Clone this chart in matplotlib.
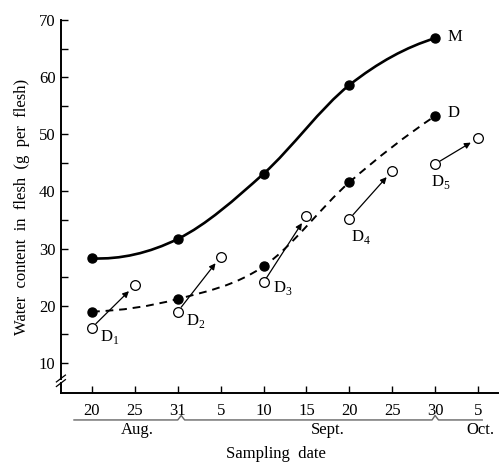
import numpy as np
import matplotlib
matplotlib.use('Agg')
import matplotlib.pyplot as plt
from matplotlib.path import Path
from matplotlib.patches import PathPatch
import matplotlib.transforms as mtransforms

plt.rcParams['font.family'] = ['Liberation Serif', 'DejaVu Serif']
plt.rcParams['mathtext.fontset'] = 'custom'
plt.rcParams['mathtext.rm'] = 'Liberation Serif'

# sampling dates, evenly spaced on the axis
date_labels = ['20', '25', '31', '5', '10', '15', '20', '25', '30', '5']
date_pos = np.arange(len(date_labels))

# M curve (filled, solid) and D curve (filled, dashed)
m_pos = [0, 2, 4, 6, 8]
m_vals = [28.3, 31.7, 43.1, 58.6, 66.8]
d_pos = [0, 2, 4, 6, 8]
d_vals = [19.0, 21.2, 26.9, 41.6, 53.2]

# open circles: D1..D5 start values and values five days later
dn_names = ['1', '2', '3', '4', '5']
dn_start_pos = [0, 2, 4, 6, 8]
dn_start_vals = [16.2, 19.0, 24.1, 35.2, 44.8]
dn_end_pos = [1, 3, 5, 7, 9]
dn_end_vals = [23.6, 28.6, 35.7, 43.6, 49.3]


def smooth_path(x, y):
    # hermite segments through the points, drawn as bezier curves
    x = np.asarray(x, float)
    y = np.asarray(y, float)
    m = np.gradient(y, x, edge_order=2)
    verts = [(x[0], y[0])]
    codes = [Path.MOVETO]
    for i in range(len(x) - 1):
        h = x[i + 1] - x[i]
        verts += [(x[i] + h / 3, y[i] + m[i] * h / 3),
                  (x[i + 1] - h / 3, y[i + 1] - m[i + 1] * h / 3),
                  (x[i + 1], y[i + 1])]
        codes += [Path.CURVE4] * 3
    return Path(verts, codes)


fig = plt.figure(figsize=(5.04, 4.63), dpi=100)
ax = fig.add_axes([0.121, 0.151, 0.867, 0.806])
ax.set_xlim(-0.723, 9.466)
ax.set_ylim(4.75, 70)

ax.add_patch(PathPatch(smooth_path(m_pos, m_vals), fill=False, lw=1.9, color='k'))
ax.add_patch(PathPatch(smooth_path(d_pos, d_vals), fill=False, lw=1.4, color='k',
                       linestyle=(0, (4, 3))))
ax.plot(m_pos, m_vals, 'o', color='k', ms=6.5, zorder=5)
ax.plot(d_pos, d_vals, 'o', color='k', ms=6.5, zorder=5)

for i in range(len(dn_names)):
    ax.annotate('', xy=(dn_end_pos[i], dn_end_vals[i]),
                xytext=(dn_start_pos[i], dn_start_vals[i]),
                arrowprops=dict(arrowstyle='-|>', lw=0.9, color='k',
                                shrinkA=4, shrinkB=6, mutation_scale=9))
ax.plot(dn_start_pos, dn_start_vals, 'o', mfc='white', mec='k', mew=0.9, ms=7, zorder=6)
ax.plot(dn_end_pos, dn_end_vals, 'o', mfc='white', mec='k', mew=0.9, ms=7, zorder=6)

lab_off = [(6, -7), (6, -7), (7, -4), (1, -13), (-3, -13)]
for i in range(len(dn_names)):
    ax.annotate('D$_{' + dn_names[i] + '}$', (dn_start_pos[i], dn_start_vals[i]),
                xytext=lab_off[i], textcoords='offset points',
                ha='left', va='center', fontsize=12)

ax.annotate('M', (m_pos[-1], m_vals[-1]), xytext=(9, 1), textcoords='offset points',
            ha='left', va='center', fontsize=12)
ax.annotate('D', (d_pos[-1], d_vals[-1]), xytext=(9, 2), textcoords='offset points',
            ha='left', va='center', fontsize=12)

# axes
ax.spines['top'].set_visible(False)
ax.spines['right'].set_visible(False)
ax.spines['left'].set_visible(False)
ax.spines['bottom'].set_linewidth(1.4)
ax.plot([-0.723, -0.723], [7.3, 70], color='k', lw=1.4, clip_on=False)
ax.plot([-0.723, -0.723], [4.75, 6.5], color='k', lw=1.4, clip_on=False)
ax.plot([-0.83, -0.62], [5.9, 7.1], color='k', lw=0.9, clip_on=False)
ax.plot([-0.83, -0.62], [6.7, 7.9], color='k', lw=0.9, clip_on=False)

ax.set_yticks(range(10, 71, 10))
ax.set_yticks(range(15, 70, 10), minor=True)
ax.set_xticks(date_pos)
ax.set_xticklabels(date_labels)
ax.tick_params(direction='in', length=5, width=1, labelsize=12, colors='k')
ax.tick_params(which='minor', direction='in', length=5, width=1)
ax.tick_params(axis='y', pad=4)
ax.tick_params(axis='x', pad=7)

ax.set_ylabel('Water  content  in  flesh  (g  per  flesh)', fontsize=12, labelpad=6)

# month braces under the tick labels
trans = mtransforms.blended_transform_factory(ax.transData, ax.transAxes)
yb = -0.072
bump = 0.012
kw = dict(color='#666666', lw=1.0, transform=trans, clip_on=False)
ax.plot([-0.42, 1.9, 2.0, 2.08, 2.16, 2.3, 7.85, 7.93, 8.0, 8.08, 8.2, 9.1],
        [yb, yb, yb, yb + bump, yb, yb, yb, yb, yb + bump, yb, yb, yb], **kw)
ax.text(1.05, -0.099, 'Aug.', transform=trans, ha='center', va='center', fontsize=12)
ax.text(5.5, -0.099, 'Sept.', transform=trans, ha='center', va='center', fontsize=12)
ax.text(9.05, -0.099, 'Oct.', transform=trans, ha='center', va='center', fontsize=12)
ax.text(4.3, -0.163, 'Sampling  date', transform=trans, ha='center', va='center',
        fontsize=12)

fig.savefig('out.png', dpi=100)
